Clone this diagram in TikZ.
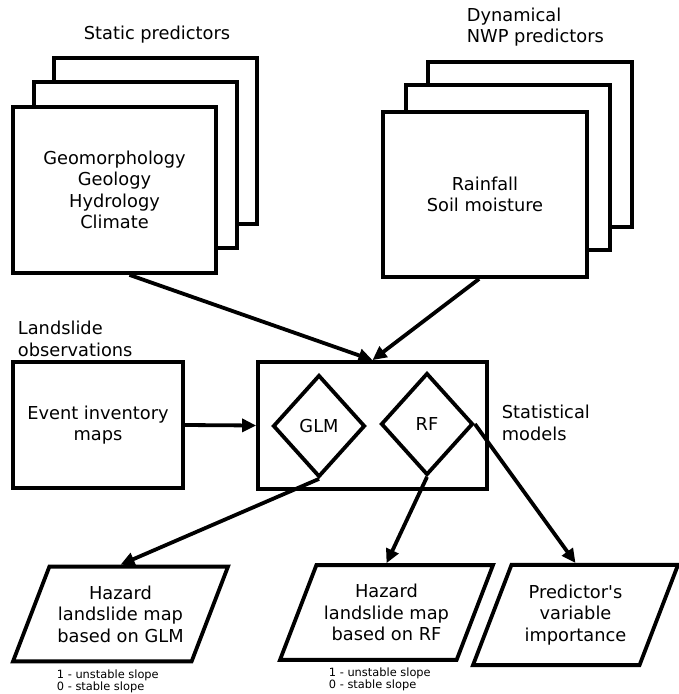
\documentclass[tikz,border=0pt]{standalone}
\usepackage{fontspec}
\setmainfont{DejaVu Sans}
\usepackage{tikz}
\usetikzlibrary{shapes.geometric,arrows.meta}

\begin{document}
\begin{tikzpicture}[x=1pt,y=-1pt,line width=3.8pt,>={Triangle[length=14pt,width=13pt]},
	every node/.style={font=\fontsize{17.8}{21.5}\selectfont,align=center},
	box/.style={draw,fill=white,inner sep=0pt},
	model/.style={draw,diamond,inner sep=0pt,minimum width=92pt,minimum height=102pt},
	mapbox/.style={draw,trapezium,trapezium left angle=69,trapezium right angle=111,
		trapezium stretches body,minimum width=215pt,inner xsep=0pt,inner ysep=19pt},
	heading/.style={inner sep=0pt},
	note/.style={inner sep=0pt,align=left,font=\fontsize{11.4}{12}\selectfont}]
	%\draw[step=50,gray,very thin] (0,0) grid (679,694);
	\useasboundingbox (0,0) rectangle (679,694);
	% static predictors, back sheets first
	\foreach \k/\dx/\dy in {3/41/-49,2/21/-25}
		\node[box,minimum width=203pt,minimum height=166pt] (static\k) at (114.5+\dx,190+\dy) {};
	\node[box,minimum width=203pt,minimum height=166pt] (static1) at (114.5,190) {Geomorphology\\Geology\\Hydrology\\Climate};
	\node[heading] (statichead) at (157,35) {Static predictors};
	% dynamical predictors
	\foreach \k/\dx/\dy in {3/45/-50,2/23/-27}
		\node[box,minimum width=204pt,minimum height=165pt] (dyn\k) at (485+\dx,194.5+\dy) {};
	\node[box,minimum width=204pt,minimum height=165pt] (dyn1) at (485,194.5) {Rainfall\\Soil moisture};
	\node[heading,anchor=west,align=left] (dynhead) at (465,27) {Dynamical\\NWP predictors};
	% observations and models
	\node[box,minimum width=170pt,minimum height=126pt] (events) at (98,425) {Event inventory\\maps};
	\node[heading,anchor=west,align=left] (obshead) at (16,339) {Landslide\\observations};
	\node[box,minimum width=229pt,minimum height=127pt] (models) at (372.5,425.5) {};
	\node[heading,anchor=west,align=left] (modelshead) at (500,423) {Statistical\\models};
	\node[model] (glm) at (319,426) {GLM};
	\node[model] (rf) at (427,424) {RF};
	% outputs
	\node[mapbox] (hazglm) at (120.5,614) {Hazard\\landslide map\\based on GLM};
	\node[mapbox,minimum width=213pt] (hazrf) at (386.5,612.5) {Hazard\\landslide map\\based on RF};
	\node[mapbox,minimum width=205pt,inner ysep=20pt] (importance) at (575.5,615) {Predictor\textquotesingle s\\variable\\importance};
	\node[note,anchor=west] (noteglm) at (55,681) {1 - unstable slope\\0 - stable slope};
	\node[note,anchor=west] (noterf) at (327,679) {1 - unstable slope\\0 - stable slope};
	% connectors
	\draw[->] (static1.-80) -- (models.north);
	\draw[->] (dyn1.-94) -- (models.north);
	\draw[->] (events.east) -- (models.west);
	\draw[->] (glm.south) -- (hazglm.north);
	\draw[->] (rf.south) -- (hazrf.north);
	\draw[->] (rf.east) -- (importance.north);
\end{tikzpicture}
\end{document}
